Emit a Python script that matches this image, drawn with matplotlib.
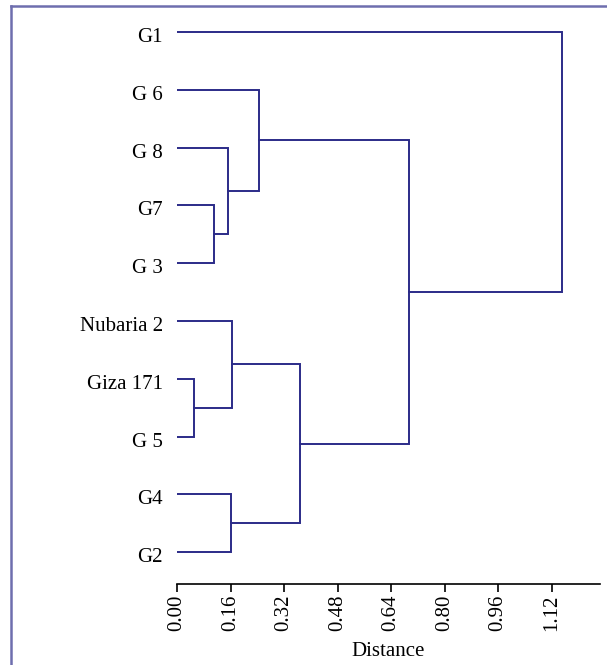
import matplotlib.pyplot as plt
import matplotlib.transforms as mtransforms
from matplotlib.lines import Line2D
import numpy as np

plt.rcParams['font.family'] = ['Liberation Serif', 'DejaVu Serif']

# leaves, top to bottom
labels = ["G1", "G 6", "G 8", "G7", "G 3", "Nubaria 2", "Giza 171", "G 5", "G4", "G2"]

# linkage steps: clusters 0-9 are leaves, each merge makes cluster 10, 11, ...
merge_left = [6, 3, 2, 8, 5, 1, 14, 15, 0]
merge_right = [7, 4, 11, 9, 10, 12, 13, 16, 17]
merge_dist = [0.051, 0.112, 0.152, 0.161, 0.165, 0.244, 0.368, 0.695, 1.151]

xticks = [0.00, 0.16, 0.32, 0.48, 0.64, 0.80, 0.96, 1.12]

line_col = "#2b2b88"
frame_col = "#6e6eae"

fig = plt.figure(figsize=(6.07, 6.65), dpi=100)
ax = fig.add_axes([177 / 607, 1 - 584 / 665, (600 - 177) / 607, 583.8 / 665])

# y position and height of every cluster
pos = {i: float(i) for i in range(len(labels))}
height = {i: 0.0 for i in range(len(labels))}
for k, (a, b, d) in enumerate(zip(merge_left, merge_right, merge_dist)):
    ax.plot([height[a], d, d, height[b]], [pos[a], pos[a], pos[b], pos[b]],
            color=line_col, lw=1.4, solid_joinstyle="miter")
    c = len(labels) + k
    pos[c] = (pos[a] + pos[b]) / 2
    height[c] = d

ax.set_xlim(0, 1.265)
ax.set_ylim(len(labels) - 1 + 0.55, -0.55)

ax.set_yticks(np.arange(len(labels)))
ax.set_yticklabels(labels, fontsize=15)
ax.tick_params(axis="y", length=0, pad=10)
shift = mtransforms.ScaledTranslation(0, -3 / 100, fig.dpi_scale_trans)
for t in ax.get_yticklabels():
    t.set_transform(t.get_transform() + shift)

ax.set_xticks(xticks)
ax.set_xticklabels([f"{t:.2f}" for t in xticks], rotation=90, fontsize=15)
ax.tick_params(axis="x", length=6, width=1.2, pad=1.5, direction="out")
ax.set_xlabel("Distance", fontsize=15, labelpad=8)

for s in ["top", "right", "left"]:
    ax.spines[s].set_visible(False)
ax.spines["bottom"].set_linewidth(1.2)

# outer frame along the top and left edge
fig.add_artist(Line2D([11 / 607, 1], [1 - 6 / 665, 1 - 6 / 665], color=frame_col, lw=1.8))
fig.add_artist(Line2D([11 / 607, 11 / 607], [0, 1 - 6 / 665], color=frame_col, lw=1.8))

fig.savefig("out.png", dpi=100)
